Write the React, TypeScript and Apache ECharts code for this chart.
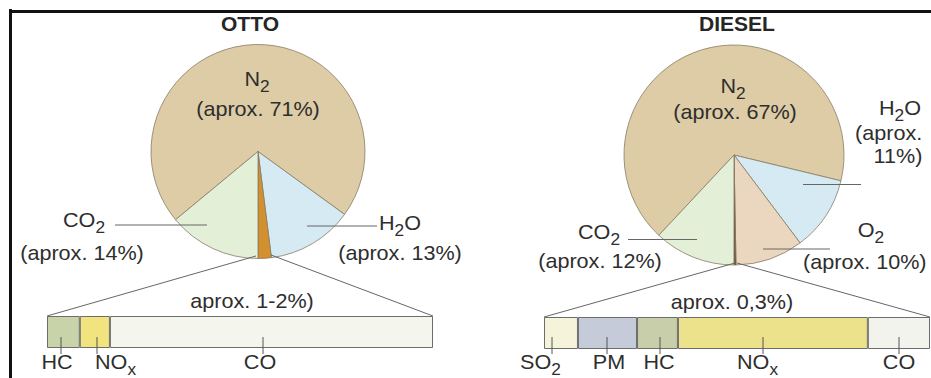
import React, { useEffect, useRef } from "react";
import * as echarts from "echarts";

// ---------- DATA ----------
const chartTitles = ["OTTO", "DIESEL"];

const ottoNames = ["N2", "H2O", "HC+NOx+CO", "CO2"];
const ottoValues = [71, 13, 2, 14];

const dieselNames = ["N2", "H2O", "O2", "SO2+PM+HC+NOx+CO", "CO2"];
const dieselValues = [67, 11, 10, 0.3, 12];

const ottoBarNames = ["HC", "NOx", "CO"];
const ottoBarValues = [8.5, 7.8, 83.7];

const dieselBarNames = ["SO2", "PM", "HC", "NOx", "CO"];
const dieselBarValues = [8.8, 15.3, 10.6, 49.2, 16.1];

const ottoBarLabels = ["{m|HC}", "{m|NO}{s|x}", "{m|CO}"];
const dieselBarLabels = ["{m|SO}{s|2}", "{m|PM}", "{m|HC}", "{m|NO}{s|x}", "{m|CO}"];

const ottoPieLabels = [
  ["{m|N}{s|2}", "(aprox. 71%)"],
  ["{m|H}{s|2}{m|O}", "(aprox. 13%)"],
  ["aprox. 1-2%)"],
  ["{m|CO}{s|2}", "(aprox. 14%)"],
];
const dieselPieLabels = [
  ["{m|N}{s|2}", "(aprox. 67%)"],
  ["{m|H}{s|2}{m|O}", "(aprox.", "11%)"],
  ["{m|O}{s|2}", "(aprox. 10%)"],
  ["aprox. 0,3%)"],
  ["{m|CO}{s|2}", "(aprox. 12%)"],
];

// ---------- STYLE / LAYOUT ----------
const FONT = '"Liberation Sans", Arial, Helvetica, sans-serif';
const FS = 20;
const SX = 1.08;
const TEXT = "#2e2e2e";
const LINE = "#666";

const ottoColors = ["#ddcca5", "#d5eaf3", "#d3902e", "#e3efd6"];
const dieselColors = ["#ddcca5", "#d5eaf3", "#ebd7bf", "#5b3f22", "#e3efd6"];
const ottoBarColors = ["#c8d3a9", "#f1e47f", "#f4f5ec"];
const dieselBarColors = ["#f5f3da", "#c6cbd9", "#c7cea9", "#ece28b", "#f3f3ee"];

const rich = {
  m: { fontSize: FS, fontFamily: FONT, fill: TEXT, color: TEXT, lineHeight: 22, padding: [0, 0, 8, 0] },
  s: { fontSize: 16, fontFamily: FONT, fill: TEXT, color: TEXT, lineHeight: 16, padding: [11, 0, 3, 0] },
};

function label(text: string, x: number, y: number, align: string = "center") {
  const isRich = text.indexOf("{") >= 0;
  return {
    type: "text",
    x,
    y: isRich ? y - 8 : y,
    z: 100,
    scaleX: SX,
    silent: true,
    style: {
      text,
      fill: TEXT,
      fontSize: FS,
      fontFamily: FONT,
      textAlign: align,
      align,
      textVerticalAlign: isRich ? "top" : "middle",
      verticalAlign: isRich ? "top" : "middle",
      rich: isRich ? rich : undefined,
    },
  };
}

function line(x1: number, y1: number, x2: number, y2: number, color = LINE, w = 1) {
  return {
    type: "line",
    silent: true,
    z: 90,
    shape: { x1, y1, x2, y2 },
    style: { stroke: color, lineWidth: w },
  };
}

// label anchor positions [x, y, align] per label line
const ottoLabelPos: any[][] = [
  [[257, 80], [258, 109]],
  [[400, 224], [400, 253]],
  [[252, 301]],
  [[84, 221], [82, 253]],
];
const dieselLabelPos: any[][] = [
  [[733, 87], [735, 112]],
  [[900, 109], [855, 133, "left"], [898, 156]],
  [[871, 231], [803, 262, "left"]],
  [[732, 302]],
  [[599, 233], [600, 261]],
];
const ottoBarLabelPos: any[] = [[57], [95, "left"], [260]];
const dieselBarLabelPos: any[] = [[520, "left"], [609], [659], [737, "left"], [899]];
const barLabelY = 363;
const ottoTickX = [61, 97, 263];
const dieselTickX = [552, 607, 660, 763, 899];

export default function App() {
  const ref = useRef<HTMLDivElement>(null);

  useEffect(() => {
    document.body.style.margin = "0";
    const chart = echarts.init(ref.current!, undefined, { renderer: "svg" });

    const graphics: any[] = [];
    // frame
    graphics.push(line(10.5, 9, 10.5, 378, "#111", 3));
    graphics.push(line(9, 11.5, 931, 11.5, "#111", 3));

    // leader lines
    graphics.push(line(115, 225, 207, 225));
    graphics.push(line(307, 226, 377, 226));
    graphics.push(line(628, 239.5, 697, 239.5));
    graphics.push(line(763, 249, 830, 249));
    graphics.push(line(803, 184.5, 861, 184.5));

    // expansion lines
    graphics.push(line(256, 256, 47, 316));
    graphics.push(line(271, 255, 433, 316));
    graphics.push(line(735, 263, 544, 317));
    graphics.push(line(737, 263, 930, 317));

    // pie labels
    ottoPieLabels.forEach((lines, i) =>
      lines.forEach((t, j) => {
        const p = ottoLabelPos[i][j];
        graphics.push(label(t, p[0], p[1], p[2] || "center"));
      })
    );
    dieselPieLabels.forEach((lines, i) =>
      lines.forEach((t, j) => {
        const p = dieselLabelPos[i][j];
        graphics.push(label(t, p[0], p[1], p[2] || "center"));
      })
    );

    // bar ticks and labels
    ottoTickX.forEach((x) => graphics.push(line(x, 337, x, 354, "#555")));
    dieselTickX.forEach((x) => graphics.push(line(x, 337, x, 354, "#555")));
    ottoBarLabels.forEach((t, i) => {
      const p = ottoBarLabelPos[i];
      graphics.push(label(t, p[0], barLabelY, p[1] || "center"));
    });
    dieselBarLabels.forEach((t, i) => {
      const p = dieselBarLabelPos[i];
      graphics.push(label(t, p[0], barLabelY, p[1] || "center"));
    });

    const pieCommon = {
      type: "pie",
      clockwise: true,
      label: { show: false },
      labelLine: { show: false },
      emphasis: { disabled: true },
      silent: true,
      itemStyle: { borderColor: "#867c66", borderWidth: 0.8 },
    };

    const barSeries = (names: string[], values: number[], colors: string[], idx: number) =>
      names.map((n, i) => ({
        type: "bar",
        name: n,
        stack: "s" + idx,
        xAxisIndex: idx,
        yAxisIndex: idx,
        barWidth: "100%",
        silent: true,
        data: [values[i]],
        itemStyle: { color: colors[i], borderColor: "#6d6d6d", borderWidth: 1 },
      }));

    const titleStyle = { fontSize: 21, fontWeight: "bold", fontFamily: FONT, color: "#262626" };

    chart.setOption({
      animation: false,
      backgroundColor: "#ffffff",
      title: [
        { text: chartTitles[0], left: 250, top: 13, padding: 0, textAlign: "center", textStyle: titleStyle },
        { text: chartTitles[1], left: 737, top: 13, padding: 0, textAlign: "center", textStyle: titleStyle },
      ],
      grid: [
        { left: 47, top: 316, width: 386, height: 32 },
        { left: 544, top: 317, width: 386, height: 32 },
      ],
      xAxis: [
        { gridIndex: 0, type: "value", min: 0, max: 100, show: false },
        { gridIndex: 1, type: "value", min: 0, max: 100, show: false },
      ],
      yAxis: [
        { gridIndex: 0, type: "category", data: ["otto"], show: false },
        { gridIndex: 1, type: "category", data: ["diesel"], show: false },
      ],
      series: [
        {
          ...pieCommon,
          name: "OTTO",
          center: [258, 151.5],
          radius: 107,
          startAngle: 219.6,
          data: ottoNames.map((n, i) => ({ name: n, value: ottoValues[i], itemStyle: { color: ottoColors[i] } })),
        },
        {
          ...pieCommon,
          name: "DIESEL",
          center: [734, 155],
          radius: 110,
          startAngle: 226.9,
          data: dieselNames.map((n, i) => ({ name: n, value: dieselValues[i], itemStyle: { color: dieselColors[i] } })),
        },
        ...barSeries(ottoBarNames, ottoBarValues, ottoBarColors, 0),
        ...barSeries(dieselBarNames, dieselBarValues, dieselBarColors, 1),
      ],
      graphic: graphics,
    });

    return () => chart.dispose();
  }, []);

  return <div ref={ref} style={{ width: 931, height: 378 }} />;
}
